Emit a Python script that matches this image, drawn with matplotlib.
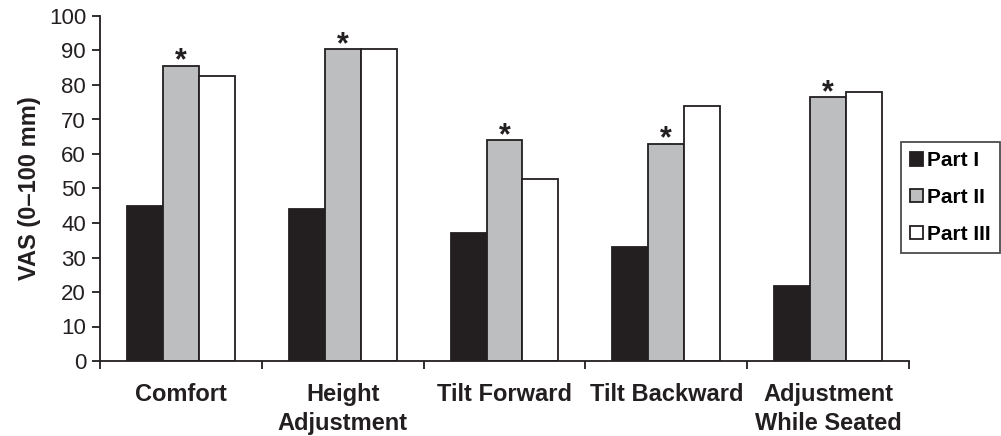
import numpy as np
import matplotlib
matplotlib.use('Agg')
import matplotlib.pyplot as plt

plt.rcParams['font.family'] = ['Liberation Sans', 'DejaVu Sans']

categories = ['Comfort', 'Height\nAdjustment', 'Tilt Forward', 'Tilt Backward',
              'Adjustment\nWhile Seated']
series_names = ['Part I', 'Part II', 'Part III']
part1 = [45, 44, 37, 33, 21.7]
part2 = [85.6, 90.5, 64, 63, 76.4]
part3 = [82.7, 90.5, 52.7, 74, 78]
star_series = [True, True, True, True, True]  # asterisks above Part II

colors = ['#231f20', '#bcbec0', '#ffffff']
edge = '#231f20'

fig = plt.figure(figsize=(10.01, 4.36), dpi=100)
ax = fig.add_axes([100 / 1001, 1 - 361 / 436, 809 / 1001, 345 / 436])

x = np.arange(len(categories))
w = 2 / 9
for i, (vals, name) in enumerate(zip([part1, part2, part3], series_names)):
    ax.bar(x + (i - 1) * w, vals, width=w, color=colors[i], edgecolor=edge,
           linewidth=1.3, label=name, zorder=2)

for xi, v, s in zip(x, part2, star_series):
    if s:
        ax.text(xi, v - 3.2, '*', ha='center', va='bottom', fontsize=22,
                fontweight='bold', color=edge)

ax.set_xlim(-0.5, len(categories) - 0.5)
ax.set_ylim(0, 100)
ax.set_yticks(np.arange(0, 101, 10))
ax.set_xticks(x)
ax.set_xticklabels(categories, fontsize=17, fontweight='bold', color=edge,
                   linespacing=1.3)
ax.set_xticks(np.arange(-0.5, len(categories)), minor=True)
ax.tick_params(axis='x', which='major', length=0, pad=16)
ax.tick_params(axis='x', which='minor', length=6, width=1.3, color=edge)
ax.tick_params(axis='y', length=6, width=1.3, color=edge, labelsize=16,
               labelcolor=edge, pad=4)
ax.set_ylabel('VAS (0\u2013100 mm)', fontsize=17, fontweight='bold',
              color=edge, labelpad=6)

for side in ['top', 'right']:
    ax.spines[side].set_visible(False)
for side in ['left', 'bottom']:
    ax.spines[side].set_linewidth(1.3)
    ax.spines[side].set_color(edge)

leg = fig.legend(loc='upper left', bbox_to_anchor=(901 / 1001, 1 - 142 / 436),
                 frameon=True, fancybox=False, edgecolor=edge,
                 prop={'weight': 'bold', 'size': 15}, handlelength=0.6,
                 handleheight=0.6, handletextpad=0.2, labelspacing=0.85,
                 borderpad=0.45, borderaxespad=0)
leg.get_frame().set_linewidth(1.3)

fig.savefig('out.png', dpi=100)
